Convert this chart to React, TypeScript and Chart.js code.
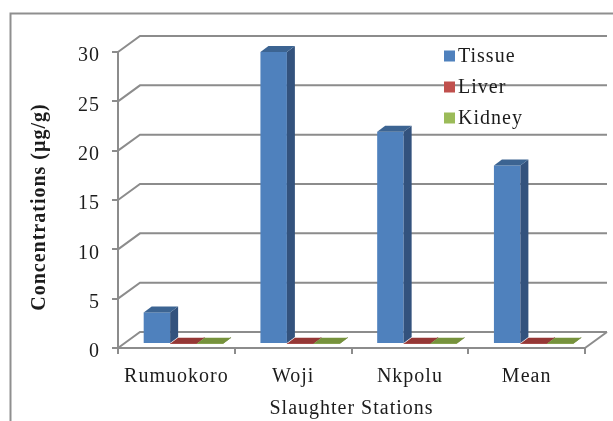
import React, { useEffect, useRef } from "react";
import { Chart, registerables } from "chart.js";

Chart.register(...registerables);

const categories = ["Rumuokoro", "Woji", "Nkpolu", "Mean"];
const tissue = [3.2, 29.6, 21.5, 18.1];
const liver = [0.03, 0.03, 0.03, 0.03];
const kidney = [0.03, 0.03, 0.03, 0.03];
const yTicks = [0, 5, 10, 15, 20, 25, 30];
const yTitle = "Concentrations (µg/g)";
const xTitle = "Slaughter Stations";

const frontColors = ["#4F81BD", "#C0504D", "#9BBB59"];
const sideColors = ["#33527D", "#7F3533", "#667C3A"];
const topColors = ["#3C6492", "#953735", "#76923C"];

const GRID = "#8C8C8C";
const FONT = "Liberation Serif";
const TEXT = "#1c1c1c";
const WALL_DX = 22;
const WALL_DY = 16;
const BAR_DX = 7;
const BAR_DY = 4;
const DEPTH_DX = 8;
const DEPTH_DY = 6;

const poly = (ctx: CanvasRenderingContext2D, pts: number[][], fill: string) => {
  ctx.fillStyle = fill;
  ctx.beginPath();
  pts.forEach(([x, y], i) => (i ? ctx.lineTo(x, y) : ctx.moveTo(x, y)));
  ctx.closePath();
  ctx.fill();
};

const scene = {
  id: "scene",
  afterUpdate(chart: any) {
    chart.scales.y.getLabelItems().forEach((item: any) => {
      item.options.translation[1] += 4;
    });
  },
  beforeDraw(chart: any) {
    const ctx = chart.ctx;
    ctx.save();
    ctx.strokeStyle = "#8F8F8F";
    ctx.lineWidth = 2;
    ctx.beginPath();
    ctx.moveTo(10.5, 421);
    ctx.lineTo(10.5, 13.5);
    ctx.lineTo(613, 13.5);
    ctx.stroke();
    ctx.restore();
    ctx.letterSpacing = "1px";
  },
  beforeDatasetsDraw(chart: any) {
    const ctx = chart.ctx;
    const { left, right } = chart.chartArea;
    const y = chart.scales.y;
    ctx.save();
    ctx.strokeStyle = GRID;
    ctx.lineWidth = 2;
    yTicks.forEach((v) => {
      const p = y.getPixelForValue(v);
      ctx.beginPath();
      ctx.moveTo(left, p);
      ctx.lineTo(left + WALL_DX, p - WALL_DY);
      ctx.lineTo(right + WALL_DX, p - WALL_DY);
      ctx.stroke();
    });
    const b = y.getPixelForValue(0);
    ctx.beginPath();
    ctx.moveTo(right, b);
    ctx.lineTo(right + WALL_DX, b - WALL_DY);
    ctx.stroke();
    ctx.restore();
    ctx.save();
    ctx.translate(BAR_DX, -BAR_DY);
  },
  afterDatasetsDraw(chart: any) {
    const ctx = chart.ctx;
    chart.data.datasets.forEach((_: any, i: number) => {
      chart.getDatasetMeta(i).data.forEach((bar: any) => {
        const x0 = bar.x - bar.width / 2;
        const x1 = bar.x + bar.width / 2;
        const top = bar.y;
        const base = bar.base;
        poly(ctx, [[x1, top], [x1 + DEPTH_DX, top - DEPTH_DY], [x1 + DEPTH_DX, base - DEPTH_DY], [x1, base]], sideColors[i]);
        poly(ctx, [[x0, top], [x1, top], [x1 + DEPTH_DX, top - DEPTH_DY], [x0 + DEPTH_DX, top - DEPTH_DY]], topColors[i]);
      });
    });
    ctx.restore();
  },
  afterDraw(chart: any) {
    const ctx = chart.ctx;
    ctx.save();
    ctx.font = `20px "${FONT}"`;
    ctx.textBaseline = "middle";
    ctx.textAlign = "left";
    chart.data.datasets.forEach((d: any, i: number) => {
      const cy = 56 + i * 31;
      ctx.fillStyle = frontColors[i];
      ctx.fillRect(444, cy - 5.5, 11, 11);
      ctx.fillStyle = TEXT;
      ctx.fillText(d.label, 458, cy + 1);
    });
    ctx.translate(40, 207);
    ctx.rotate(-Math.PI / 2);
    ctx.font = `bold 20px "${FONT}"`;
    ctx.textAlign = "center";
    ctx.fillText(yTitle, 0, 0);
    ctx.restore();
  },
};

export default function App() {
  const ref = useRef<HTMLCanvasElement>(null);
  useEffect(() => {
    const chart = new Chart(ref.current as HTMLCanvasElement, {
      type: "bar",
      data: {
        labels: categories,
        datasets: [
          { label: "Tissue", data: tissue, backgroundColor: frontColors[0] },
          { label: "Liver", data: liver, backgroundColor: frontColors[1] },
          { label: "Kidney", data: kidney, backgroundColor: frontColors[2] },
        ],
      },
      options: {
        animation: false,
        responsive: false,
        layout: { padding: { top: 52, right: 28, left: 0, bottom: 0 } },
        datasets: { bar: { categoryPercentage: 0.68, barPercentage: 1, clip: false } },
        plugins: { legend: { display: false }, tooltip: { enabled: false } },
        scales: {
          x: {
            afterFit: (s: any) => { s.height = 73; },
            grid: { drawOnChartArea: false, color: GRID, lineWidth: 2, tickLength: 6, offset: true },
            border: { color: GRID, width: 2 },
            ticks: { color: TEXT, font: { family: FONT, size: 20 }, padding: 11, maxRotation: 0 },
            title: { display: true, text: xTitle, color: TEXT, font: { family: FONT, size: 20 }, padding: { top: 6, bottom: 0 } },
          },
          y: {
            min: 0,
            max: 30,
            afterFit: (s: any) => { s.width = 118; },
            grid: { drawOnChartArea: false, color: GRID, lineWidth: 2, tickLength: 6 },
            border: { color: GRID, width: 2 },
            ticks: { stepSize: 5, color: TEXT, font: { family: FONT, size: 20 }, padding: 12 },
            title: { display: false },
          },
        },
      },
      plugins: [scene],
    } as any);
    return () => chart.destroy();
  }, []);
  return <canvas ref={ref} width={613} height={421} style={{ position: "absolute", left: 0, top: 0, display: "block" }} />;
}
